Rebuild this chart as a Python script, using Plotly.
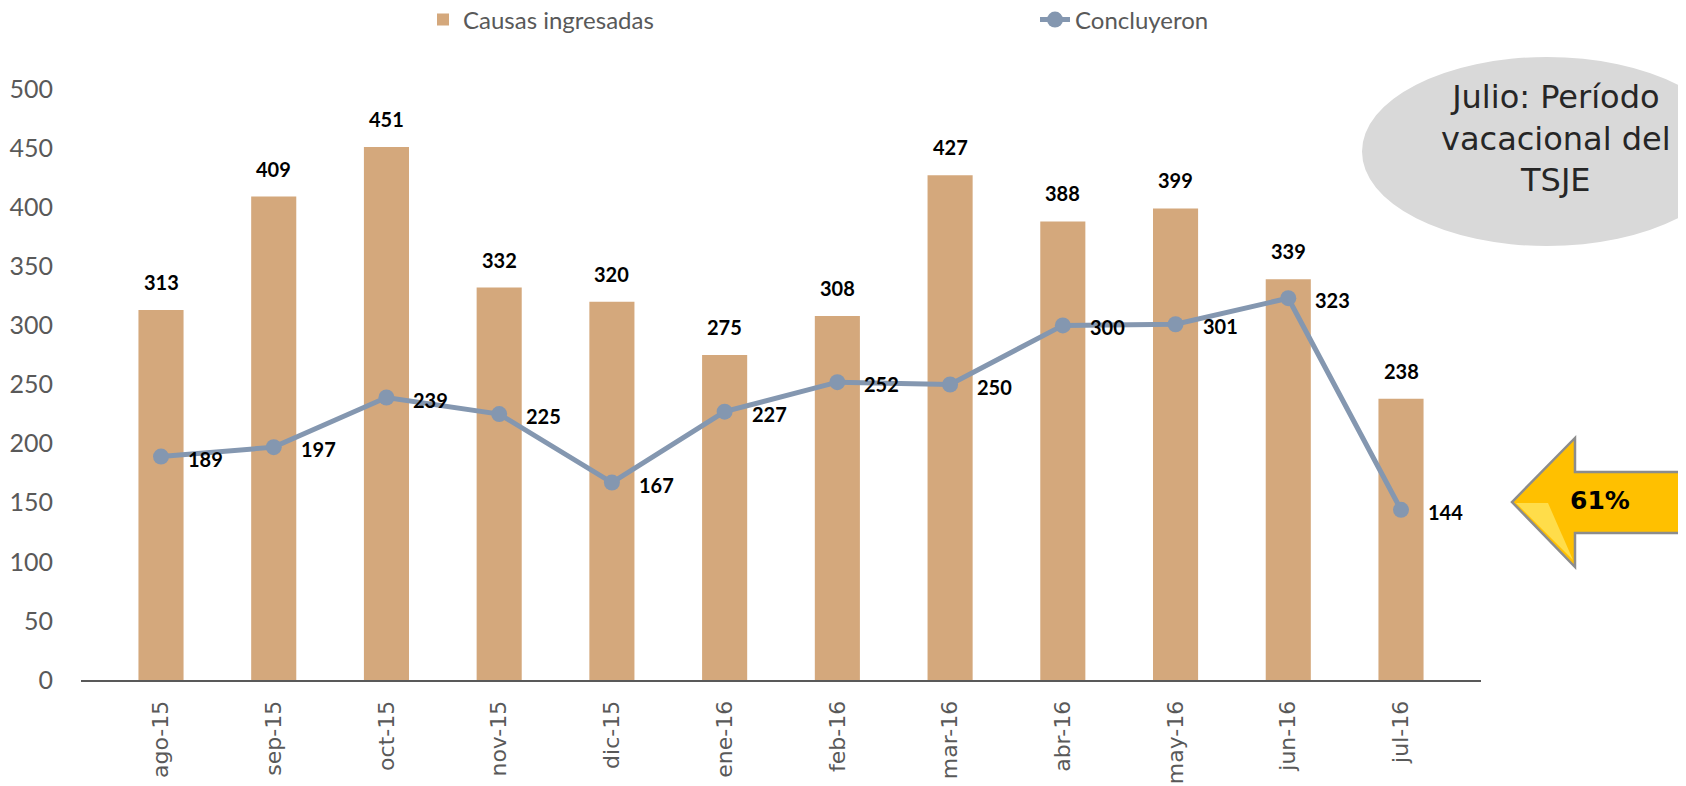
import plotly.graph_objects as go

months = ["ago-15", "sep-15", "oct-15", "nov-15", "dic-15", "ene-16",
          "feb-16", "mar-16", "abr-16", "may-16", "jun-16", "jul-16"]
ingresadas = [313, 409, 451, 332, 320, 275, 308, 427, 388, 399, 339, 238]
concluyeron = [189, 197, 239, 225, 167, 227, 252, 250, 300, 301, 323, 144]

# page body has an 8px margin: build the figure 8px smaller and shifted
OFF = 8
W, H = 1686 - OFF, 786 - OFF
PLOT_L, PLOT_R, PLOT_T, PLOT_B = 81, 1481, 89, 680   # target page coords
ML, MT = PLOT_L - OFF, PLOT_T - OFF
MR = W - (PLOT_R - OFF)
MB = H - (PLOT_B - OFF)
PW, PH = PLOT_R - PLOT_L, PLOT_B - PLOT_T


def px(x):
    return (x - PLOT_L) / PW


def py(y):
    return (PLOT_B - y) / PH


BAR = "#D4A87C"
LINE = "#8497B0"
GREY = "#595959"

fig = go.Figure()
fig.add_trace(go.Bar(
    x=months, y=ingresadas, name="Causas ingresadas",
    marker=dict(color=BAR, line=dict(width=0)),
))
fig.add_trace(go.Scatter(
    x=months, y=concluyeron, name="Concluyeron", mode="lines+markers",
    line=dict(color=LINE, width=5),
    marker=dict(color=LINE, size=16),
))

annotations = []
for m, v in zip(months, ingresadas):
    annotations.append(dict(
        x=m, y=v, text=str(v), showarrow=False, xanchor="center", yanchor="bottom",
        yshift=14, font=dict(family="Lato", size=20, color="black", weight="bold"),
    ))
for m, v in zip(months, concluyeron):
    annotations.append(dict(
        x=m, y=v, text=str(v), showarrow=False, xanchor="left", yanchor="middle",
        xshift=25, yshift=-2, font=dict(family="Lato", size=20, color="black", weight="bold"),
    ))

annotations.append(dict(
    xref="paper", yref="paper", x=px(1556), y=py(139),
    text="Julio: Período<br>vacacional del<br>TSJE", showarrow=False,
    xanchor="center", yanchor="middle", align="center",
    font=dict(family="DejaVu Sans", size=32, color="#262626"),
))
annotations.append(dict(
    xref="paper", yref="paper", x=px(1600), y=py(500),
    text="61%", showarrow=False, xanchor="center", yanchor="middle",
    font=dict(family="DejaVu Sans", size=25, color="black", weight="bold"),
))

arrow_pts = [(1512, 502), (1575, 438), (1575, 472), (1700, 472),
             (1700, 533), (1575, 533), (1575, 567)]
path = "M " + " L ".join(f"{px(a):.5f},{py(b):.5f}" for a, b in arrow_pts) + " Z"
bevel_pts = [(1516, 503), (1548, 503), (1573, 560)]
bevel = "M " + " L ".join(f"{px(a):.5f},{py(b):.5f}" for a, b in bevel_pts) + " Z"

shapes = [
    dict(type="circle", xref="paper", yref="paper",
         x0=px(1362), x1=px(1732), y0=py(246), y1=py(57),
         fillcolor="#D9D9D9", line=dict(width=0), layer="below"),
    dict(type="path", xref="paper", yref="paper", path=path,
         fillcolor="#FFC000", line=dict(color="#8C8C8C", width=2.5)),
    dict(type="path", xref="paper", yref="paper", path=bevel,
         fillcolor="#FFE45C", opacity=0.8, line=dict(width=0)),
]

fig.update_layout(
    width=W, height=H,
    margin=dict(l=ML, r=MR, t=MT, b=MB, autoexpand=False),
    plot_bgcolor="white", paper_bgcolor="white",
    bargap=0.6,
    showlegend=True,
    legend=dict(orientation="h", x=px(423), y=py(20), xanchor="left", yanchor="middle",
                entrywidth=567, entrywidthmode="pixels",
                font=dict(family="Lato", size=24, color=GREY)),
    xaxis=dict(type="category", tickangle=-90, showgrid=False, ticks="",
               showline=True, linecolor=GREY, linewidth=2, automargin=False,
               tickfont=dict(family="DejaVu Sans", size=22, color=GREY),
               ticklabelstandoff=10),
    yaxis=dict(range=[0, 500], tickvals=[0, 50, 100, 150, 200, 250, 300, 350, 400, 450, 500],
               showgrid=False, zeroline=False, ticks="", showline=False, automargin=False,
               tickfont=dict(family="Lato", size=25, color=GREY),
               ticklabelstandoff=27),
    annotations=annotations,
    shapes=shapes,
)

fig.write_html("out.html")
